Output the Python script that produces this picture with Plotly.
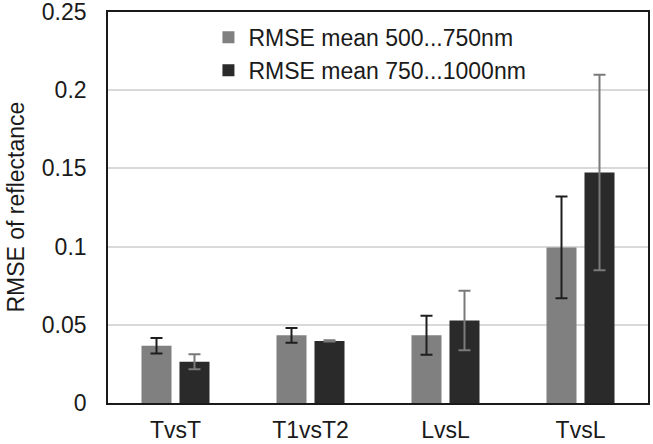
import plotly.graph_objects as go

categories = ["TvsT", "T1vsT2", "LvsL", "TvsL"]
series_names = ["RMSE mean 500...750nm", "RMSE mean 750...1000nm"]
vis_means = [0.0366, 0.0433, 0.0433, 0.0995]
vis_err = [0.0050, 0.0047, 0.0125, 0.0325]
nir_means = [0.0264, 0.0397, 0.0527, 0.1473]
nir_err = [0.0048, 0.0004, 0.0190, 0.0625]
y_ticks = [0, 0.05, 0.1, 0.15, 0.2, 0.25]
y_ticklabels = ["0", "0.05", "0.1", "0.15", "0.2", "0.25"]
y_title = "RMSE of reflectance"

FONT = "Liberation Sans, Arial, sans-serif"
FS = 23

fig = go.Figure()
fig.add_trace(go.Bar(
    x=categories, y=vis_means, name=series_names[0],
    marker=dict(color="#808080", line=dict(width=0)),
    error_y=dict(type="data", array=vis_err, visible=True,
                 color="#1e1e1e", thickness=2, width=6),
))
fig.add_trace(go.Bar(
    x=categories, y=nir_means, name=series_names[1],
    marker=dict(color="#2a2a2a", line=dict(width=0)),
    error_y=dict(type="data", array=nir_err, visible=True,
                 color="#7a7a7a", thickness=2, width=6),
))

fig.update_layout(
    width=653, height=444,
    margin=dict(l=108, r=5, t=12, b=41, autoexpand=False),
    paper_bgcolor="white", plot_bgcolor="white",
    barmode="group", bargap=0.437, bargroupgap=0.21,
    font=dict(family=FONT, size=FS, color="#1a1a1a"),
    showlegend=True,
    legend=dict(x=0.186, y=0.99, xanchor="left", yanchor="top",
                bgcolor="rgba(0,0,0,0)", font=dict(size=FS),
                tracegroupgap=2, itemwidth=30),
    annotations=[dict(text=y_title, xref="paper", yref="paper",
                      x=-0.172, y=0.5, xanchor="center", yanchor="middle",
                      textangle=-90, showarrow=False, font=dict(size=FS))],
)
fig.update_xaxes(
    showline=True, linecolor="#1a1a1a", linewidth=1.6, mirror=True,
    showgrid=False, ticks="", ticklabelstandoff=6, automargin=False,
    tickfont=dict(size=FS), ticklabeloverflow="allow",
)
fig.update_yaxes(
    range=[0, 0.25], tickvals=y_ticks, ticktext=y_ticklabels,
    showline=True, linecolor="#1a1a1a", linewidth=1.6, mirror=True,
    showgrid=True, gridcolor="#d9d9d9", gridwidth=1.5,
    zeroline=False, ticks="", ticklabelstandoff=15, automargin=False,
    tickfont=dict(size=FS), ticklabeloverflow="allow",
)

fig.write_html("out.html", config={"displayModeBar": False},
               post_script="document.body.style.margin='0';document.body.style.overflow='hidden';")
